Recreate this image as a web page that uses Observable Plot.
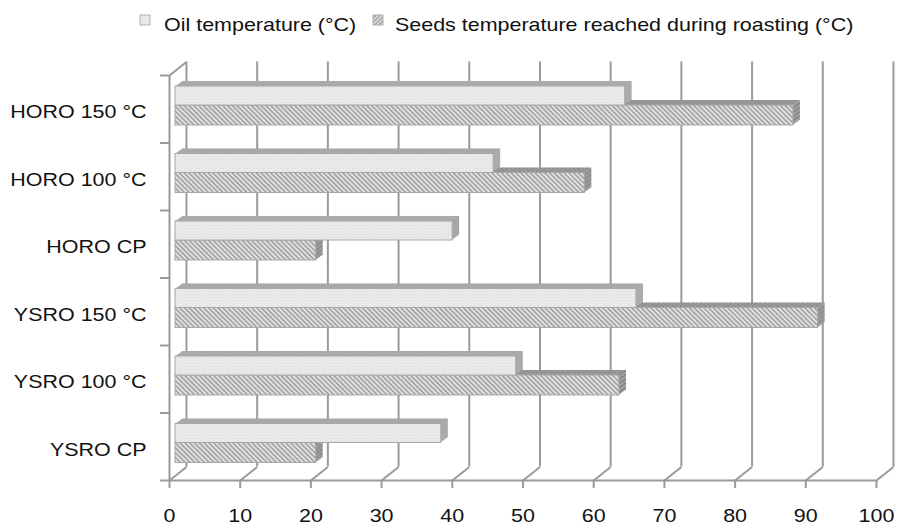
<!DOCTYPE html>
<html><head><meta charset="utf-8">
<script src="https://cdn.jsdelivr.net/npm/d3@7"></script>
<script src="https://cdn.jsdelivr.net/npm/@observablehq/plot@0.6"></script>
<style>
html,body{margin:0;padding:0;background:#fff;}
body{width:899px;height:526px;overflow:hidden;font-family:"Liberation Sans",Arial,Helvetica,sans-serif;}
#chart svg{display:block;}
</style></head><body>
<svg width="0" height="0" style="position:absolute">
<defs>
<pattern id="oilFill" patternUnits="userSpaceOnUse" width="3" height="3">
<rect width="3" height="3" fill="#e9e9e9"/><rect x="1" y="1" width="1" height="1" fill="#dcdcdc"/>
</pattern>
<pattern id="oilDark" patternUnits="userSpaceOnUse" width="3" height="3">
<rect width="3" height="3" fill="#ababab"/><rect x="1" y="1" width="1" height="1" fill="#9c9c9c"/>
</pattern>
<pattern id="seedsHatch" patternUnits="userSpaceOnUse" width="3.4" height="3.4" patternTransform="rotate(-45)">
<rect width="3.4" height="3.4" fill="#e2e2e2"/><rect width="1.6" height="3.4" fill="#a2a2a2"/>
</pattern>
<pattern id="seedsDark" patternUnits="userSpaceOnUse" width="3" height="3" patternTransform="rotate(-45)">
<rect width="3" height="3" fill="#a8a8a8"/><rect width="1.3" height="3" fill="#7c7c7c"/>
</pattern>
<pattern id="legendHatch" patternUnits="userSpaceOnUse" width="3" height="3" patternTransform="rotate(45)">
<rect width="3" height="3" fill="#e0e0e0"/><rect width="1.3" height="3" fill="#999"/>
</pattern>
</defs></svg>
<div id="chart"></div>
<script>
// ---- data ----
const categories = ["HORO 150 °C", "HORO 100 °C", "HORO CP", "YSRO 150 °C", "YSRO 100 °C", "YSRO CP"];
const oilTemp = [63.6, 45.0, 39.2, 65.2, 48.2, 37.6];
const seedsTemp = [87.4, 57.9, 19.9, 90.9, 62.8, 19.9];
const xTicks = [0, 10, 20, 30, 40, 50, 60, 70, 80, 90, 100];
const seriesNames = ["Oil temperature (°C)", "Seeds temperature reached during roasting (°C)"];

const n = categories.length;
const rows = categories.map((c, i) => ({category: c, index: i, oil: oilTemp[i], seeds: seedsTemp[i]}));
const boundaries = d3.range(n + 1);

// 3D depth of the back wall, in data units
const DEPTH_X = 2.4, DEPTH_Y = 0.2;
const STRETCH = 1.13;
const FONT = '"Liberation Sans", Arial, Helvetica, sans-serif';
const LINE = "#9a9a9a";

// ---- legend ----
const legend = d3.select("#chart").append("svg").attr("width", 899).attr("height", 44);
const legItems = [
  {name: seriesNames[0], sx: 140, tx: 164, fill: "url(#oilFill)"},
  {name: seriesNames[1], sx: 373, tx: 395, fill: "url(#legendHatch)"}
];
for (const it of legItems) {
  legend.append("rect").attr("x", it.sx).attr("y", 15).attr("width", 10).attr("height", 10)
    .attr("fill", it.fill).attr("stroke", "#b0b0b0").attr("stroke-width", 1);
  legend.append("text").attr("transform", `translate(${it.tx},31) scale(${STRETCH},1)`)
    .attr("font-family", FONT).attr("font-size", 19).attr("fill", "#111").text(it.name);
}

// ---- extrusions (3D faces of bars) ----
const extrude = (field, fill, insetTop, insetBottom) => d3.range(7, 0, -1).map(k =>
  Plot.rect(rows, {x1: () => 0, x2: field, y1: "index", y2: d => d.index + 1,
    insetTop, insetBottom, dx: 6 + k, dy: -0.72 * k, fill}));

const chart = Plot.plot({
  width: 899, height: 482,
  marginLeft: 169, marginRight: 23, marginTop: 31, marginBottom: 46,
  x: {domain: [0, 100], axis: null},
  y: {domain: [0, n], range: [31, 436], axis: null},
  style: {fontFamily: FONT, background: "white", color: "#111", overflow: "visible"},
  marks: [
    // back wall grid lines
    Plot.ruleX(xTicks, {x: d => d + DEPTH_X, y1: -DEPTH_Y, y2: n - DEPTH_Y, stroke: LINE, strokeWidth: 2}),
    // floor diagonals
    Plot.link(xTicks, {x1: d => d, y1: n, x2: d => d + DEPTH_X, y2: n - DEPTH_Y, stroke: LINE, strokeWidth: 2}),
    // left wall top diagonal + front edge
    Plot.link([0], {x1: () => 0, y1: () => 0, x2: () => DEPTH_X, y2: () => -DEPTH_Y, stroke: LINE, strokeWidth: 2}),
    Plot.ruleX([0], {x: d => d, y1: () => 0, y2: () => n, stroke: LINE, strokeWidth: 2}),
    // category ticks
    Plot.ruleY(boundaries, {y: d => d, x1: () => 0, x2: () => 0, insetLeft: -9, stroke: LINE, strokeWidth: 2}),
    // floor line
    Plot.ruleY([n], {y: d => d, x1: () => 0, x2: () => 100, stroke: LINE, strokeWidth: 2}),
    // x ticks
    Plot.ruleX(xTicks, {x: d => d, y1: () => n, y2: () => n, insetBottom: -8, stroke: LINE, strokeWidth: 2}),
    // bars: depth faces
    ...extrude("seeds", "url(#seedsDark)", 30, 17.5),
    ...extrude("oil", "url(#oilDark)", 11, 37.5),
    // bars: front faces
    Plot.rect(rows, {x1: () => 0, x2: "seeds", y1: "index", y2: d => d.index + 1, insetTop: 30, insetBottom: 17.5,
      dx: 6, fill: "url(#seedsHatch)", stroke: "#a8a8a8", strokeWidth: 1}),
    Plot.rect(rows, {x1: () => 0, x2: "oil", y1: "index", y2: d => d.index + 1, insetTop: 11, insetBottom: 37.5,
      dx: 6, fill: "url(#oilFill)", stroke: "#a8a8a8", strokeWidth: 1}),
    // category labels
    Plot.text(rows, {x: () => 0, y: d => d.index + 0.5, text: "category", dx: -23, dy: 3,
      textAnchor: "end", fontSize: 19, fill: "#111"}),
    // x tick labels
    Plot.text(xTicks, {x: d => d, y: () => n, text: d => String(d), dy: 35, fontSize: 19, fill: "#111"})
  ]
});

// horizontally stretch text to match the reference's wide lettering
d3.select(chart).selectAll("text").each(function () {
  const t = this.getAttribute("transform");
  if (t) this.setAttribute("transform", t + ` scale(${STRETCH},1)`);
  else {
    const x = +this.getAttribute("x") || 0, y = +this.getAttribute("y") || 0;
    this.removeAttribute("x"); this.removeAttribute("y");
    this.setAttribute("transform", `translate(${x},${y}) scale(${STRETCH},1)`);
  }
});

document.getElementById("chart").appendChild(chart);
</script>
</body></html>
